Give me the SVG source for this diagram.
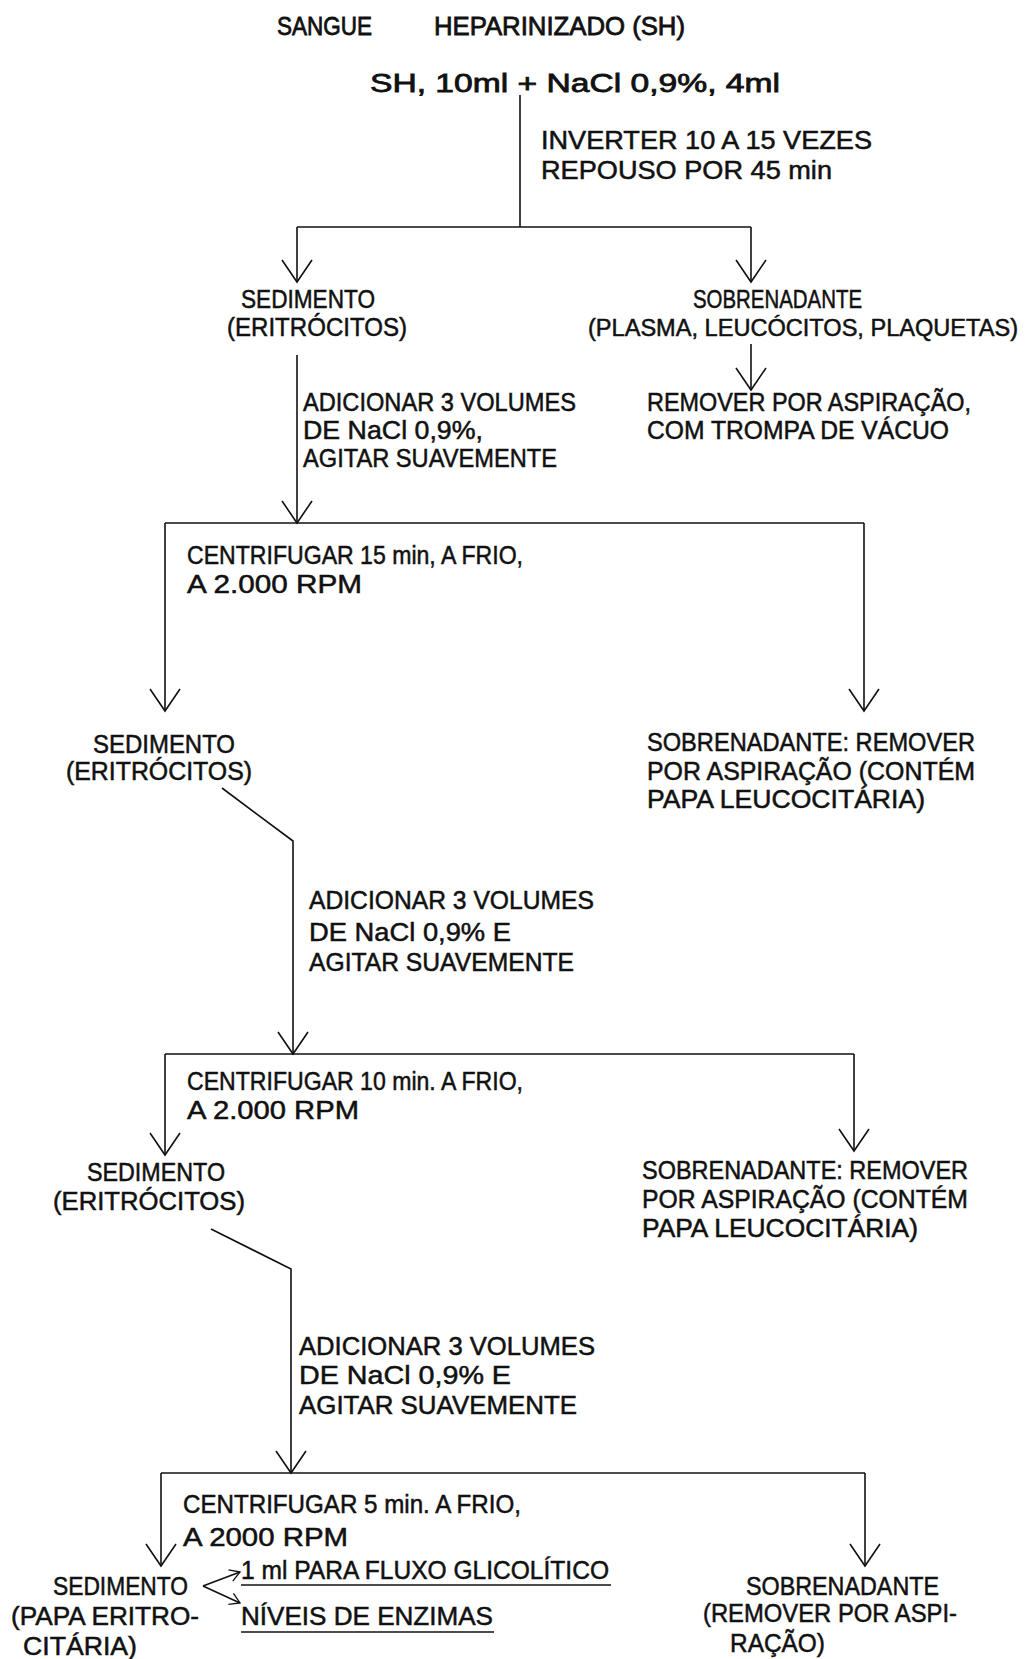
<svg xmlns="http://www.w3.org/2000/svg" width="1030" height="1659" viewBox="0 0 1030 1659">
<style>
text{font-family:"Liberation Sans Narrow","Liberation Sans",Arial,sans-serif;font-size:25px;fill:#111;stroke:#111;stroke-width:0.5;}
.t{font-size:26px;stroke-width:0.8;}
.n{font-size:23px;}
.c{fill:none;stroke:#111;stroke-width:1.6;}
.u{stroke:#111;stroke-width:1.4;}
</style>
<defs>
<marker id="v" markerUnits="userSpaceOnUse" markerWidth="40" markerHeight="40" refX="22" refY="15" orient="auto" overflow="visible">
<path d="M0,0 L22,15 L0,30" fill="none" stroke="#111" stroke-width="1.6"/>
</marker>
<marker id="s" markerUnits="userSpaceOnUse" markerWidth="20" markerHeight="20" refX="10" refY="6" orient="auto" overflow="visible">
<path d="M0,0 L10,6 L0,12" fill="none" stroke="#111" stroke-width="1.3"/>
</marker>
</defs>
<rect width="1030" height="1659" fill="#fff"/>

<g id="connectors">
<line class="c" x1="520" y1="95" x2="520" y2="227"/>
<polyline class="c" points="297,227 751,227"/>
<line class="c" x1="297" y1="227" x2="297" y2="282" marker-end="url(#v)"/>
<line class="c" x1="751" y1="227" x2="751" y2="282" marker-end="url(#v)"/>
<line class="c" x1="751" y1="344" x2="751" y2="390" marker-end="url(#v)"/>
<line class="c" x1="297" y1="355" x2="297" y2="523" marker-end="url(#v)"/>
<line class="c" x1="165" y1="523" x2="864" y2="523"/>
<line class="c" x1="165" y1="523" x2="165" y2="711" marker-end="url(#v)"/>
<line class="c" x1="864" y1="523" x2="864" y2="711" marker-end="url(#v)"/>
<polyline class="c" points="222,788 293,841 293,1054" marker-end="url(#v)"/>
<line class="c" x1="165" y1="1054" x2="854" y2="1054"/>
<line class="c" x1="165" y1="1054" x2="165" y2="1155" marker-end="url(#v)"/>
<line class="c" x1="854" y1="1054" x2="854" y2="1151" marker-end="url(#v)"/>
<polyline class="c" points="211,1229 291,1269 291,1473" marker-end="url(#v)"/>
<line class="c" x1="161" y1="1473" x2="865" y2="1473"/>
<line class="c" x1="161" y1="1473" x2="161" y2="1566" marker-end="url(#v)"/>
<line class="c" x1="865" y1="1473" x2="865" y2="1566" marker-end="url(#v)"/>
<line class="c" x1="203" y1="1586" x2="240" y2="1572" marker-end="url(#s)"/>
<line class="c" x1="203" y1="1586" x2="240" y2="1603" marker-end="url(#s)"/>
<line class="u" x1="241" y1="1585" x2="611" y2="1585"/>
<line class="u" x1="241" y1="1632" x2="494" y2="1632"/>
</g>

<g id="n-title">
<text class="t" x="277" y="35" textLength="95" lengthAdjust="spacingAndGlyphs">SANGUE</text>
<text class="t" x="434" y="35" textLength="251" lengthAdjust="spacingAndGlyphs">HEPARINIZADO (SH)</text>
</g>
<g id="n-mix">
<text class="t" x="370" y="92" textLength="410" lengthAdjust="spacingAndGlyphs">SH, 10ml + NaCl 0,9%, 4ml</text>
</g>
<g id="n-invert">
<text x="541" y="149" textLength="331" lengthAdjust="spacingAndGlyphs">INVERTER 10 A 15 VEZES</text>
<text x="541" y="179" textLength="291" lengthAdjust="spacingAndGlyphs">REPOUSO POR 45 min</text>
</g>
<g id="n-sed1">
<text x="241" y="308" textLength="134" lengthAdjust="spacingAndGlyphs">SEDIMENTO</text>
<text x="227" y="336" textLength="180" lengthAdjust="spacingAndGlyphs">(ERITRÓCITOS)</text>
</g>
<g id="n-sob1">
<text x="693" y="308" textLength="169" lengthAdjust="spacingAndGlyphs">SOBRENADANTE</text>
<text class="n" x="588" y="336" textLength="430" lengthAdjust="spacingAndGlyphs">(PLASMA, LEUCÓCITOS, PLAQUETAS)</text>
</g>
<g id="n-remove1">
<text x="647" y="411" textLength="324" lengthAdjust="spacingAndGlyphs">REMOVER POR ASPIRAÇÃO,</text>
<text x="647" y="439" textLength="302" lengthAdjust="spacingAndGlyphs">COM TROMPA DE VÁCUO</text>
</g>
<g id="n-add1">
<text x="303" y="411" textLength="273" lengthAdjust="spacingAndGlyphs">ADICIONAR 3 VOLUMES</text>
<text x="303" y="439" textLength="180" lengthAdjust="spacingAndGlyphs">DE NaCl 0,9%,</text>
<text x="303" y="467" textLength="254" lengthAdjust="spacingAndGlyphs">AGITAR SUAVEMENTE</text>
</g>
<g id="n-cent1">
<text x="187" y="564" textLength="336" lengthAdjust="spacingAndGlyphs">CENTRIFUGAR 15 min, A FRIO,</text>
<text x="187" y="593" textLength="175" lengthAdjust="spacingAndGlyphs">A 2.000 RPM</text>
</g>
<g id="n-sed2">
<text x="93" y="753" textLength="142" lengthAdjust="spacingAndGlyphs">SEDIMENTO</text>
<text x="66" y="780" textLength="186" lengthAdjust="spacingAndGlyphs">(ERITRÓCITOS)</text>
</g>
<g id="n-sob2">
<text x="647" y="751" textLength="328" lengthAdjust="spacingAndGlyphs">SOBRENADANTE: REMOVER</text>
<text x="647" y="780" textLength="328" lengthAdjust="spacingAndGlyphs">POR ASPIRAÇÃO (CONTÉM</text>
<text x="647" y="808" textLength="278" lengthAdjust="spacingAndGlyphs">PAPA LEUCOCITÁRIA)</text>
</g>
<g id="n-add2">
<text x="309" y="909" textLength="285" lengthAdjust="spacingAndGlyphs">ADICIONAR 3 VOLUMES</text>
<text x="309" y="941" textLength="202" lengthAdjust="spacingAndGlyphs">DE NaCl 0,9% E</text>
<text x="309" y="971" textLength="265" lengthAdjust="spacingAndGlyphs">AGITAR SUAVEMENTE</text>
</g>
<g id="n-cent2">
<text x="187" y="1090" textLength="336" lengthAdjust="spacingAndGlyphs">CENTRIFUGAR 10 min. A FRIO,</text>
<text x="187" y="1119" textLength="172" lengthAdjust="spacingAndGlyphs">A 2.000 RPM</text>
</g>
<g id="n-sed3">
<text x="87" y="1181" textLength="138" lengthAdjust="spacingAndGlyphs">SEDIMENTO</text>
<text x="53" y="1210" textLength="192" lengthAdjust="spacingAndGlyphs">(ERITRÓCITOS)</text>
</g>
<g id="n-sob3">
<text x="642" y="1179" textLength="326" lengthAdjust="spacingAndGlyphs">SOBRENADANTE: REMOVER</text>
<text x="642" y="1208" textLength="326" lengthAdjust="spacingAndGlyphs">POR ASPIRAÇÃO (CONTÉM</text>
<text x="642" y="1237" textLength="276" lengthAdjust="spacingAndGlyphs">PAPA LEUCOCITÁRIA)</text>
</g>
<g id="n-add3">
<text x="299" y="1355" textLength="296" lengthAdjust="spacingAndGlyphs">ADICIONAR 3 VOLUMES</text>
<text x="299" y="1384" textLength="212" lengthAdjust="spacingAndGlyphs">DE NaCl 0,9% E</text>
<text x="299" y="1414" textLength="278" lengthAdjust="spacingAndGlyphs">AGITAR SUAVEMENTE</text>
</g>
<g id="n-cent3">
<text x="183" y="1513" textLength="338" lengthAdjust="spacingAndGlyphs">CENTRIFUGAR 5 min. A FRIO,</text>
<text x="183" y="1546" textLength="165" lengthAdjust="spacingAndGlyphs">A 2000 RPM</text>
</g>
<g id="n-sed4">
<text x="53" y="1595" textLength="135" lengthAdjust="spacingAndGlyphs">SEDIMENTO</text>
<text x="11" y="1625" textLength="188" lengthAdjust="spacingAndGlyphs">(PAPA ERITRO-</text>
<text x="23" y="1655" textLength="114" lengthAdjust="spacingAndGlyphs">CITÁRIA)</text>
</g>
<g id="n-fluxo">
<text x="241" y="1579" textLength="368" lengthAdjust="spacingAndGlyphs">1 ml PARA FLUXO GLICOLÍTICO</text>
</g>
<g id="n-enzimas">
<text x="241" y="1625" textLength="252" lengthAdjust="spacingAndGlyphs">NÍVEIS DE ENZIMAS</text>
</g>
<g id="n-sob4">
<text x="746" y="1595" textLength="193" lengthAdjust="spacingAndGlyphs">SOBRENADANTE</text>
<text x="703" y="1622" textLength="254" lengthAdjust="spacingAndGlyphs">(REMOVER POR ASPI-</text>
<text x="730" y="1652" textLength="95" lengthAdjust="spacingAndGlyphs">RAÇÃO)</text>
</g>
</svg>
